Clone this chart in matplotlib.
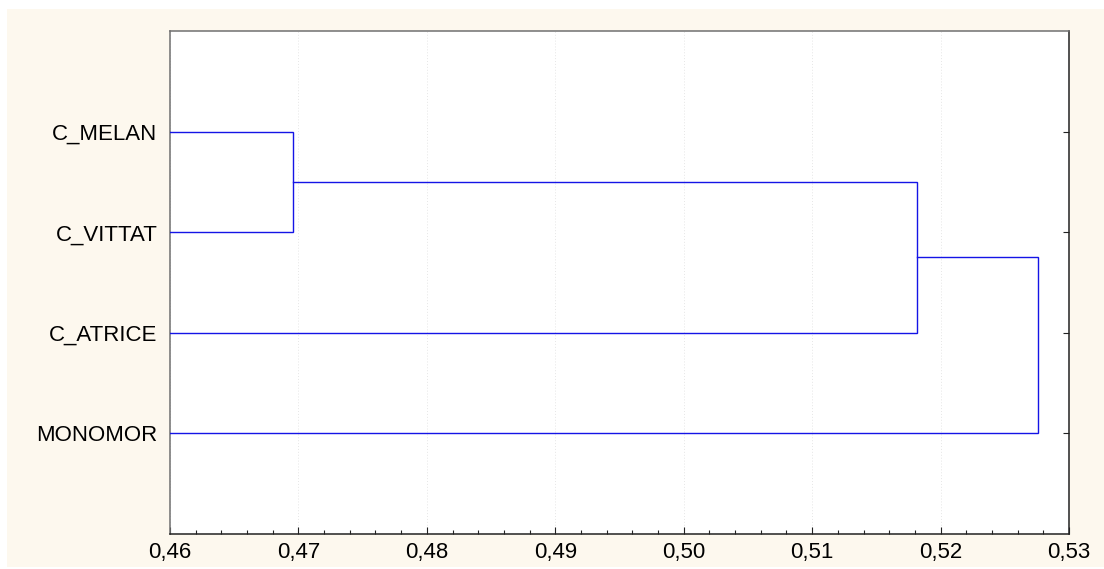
import matplotlib
matplotlib.use("Agg")
import matplotlib.pyplot as plt
from matplotlib.patches import Rectangle
import numpy as np

# ---------- data -------------------------------------------------------------
leaves = ["C_MELAN", "C_VITTAT", "C_ATRICE", "MONOMOR"]      # top to bottom
# merges: (left member, right member, linkage distance); ints index leaves,
# strings "cN" refer to the N-th merge result
merges = [
    (0, 1, 0.4696),
    ("c0", 2, 0.5182),
    ("c1", 3, 0.5276),
]
x_ticks = [0.46, 0.47, 0.48, 0.49, 0.50, 0.51, 0.52, 0.53]

# ---------- figure -----------------------------------------------------------
plt.rcParams["font.family"] = ["Liberation Sans", "DejaVu Sans"]
fig = plt.figure(figsize=(11.04, 5.69), dpi=100, facecolor="white")
# cream page background behind the axes
fig.patches.append(Rectangle((7 / 1104, 0.0035), 1.0, 1 - 9 / 569 - 0.0035,
                             transform=fig.transFigure, facecolor="#fdf8ee",
                             edgecolor="none", zorder=-5))
ax = fig.add_axes([170 / 1104, 35 / 569, 899 / 1104, 503 / 569])
ax.set_facecolor("white")

n = len(leaves)
leaf_y = {i: n - i for i in range(n)}                   # 4, 3, 2, 1
pos = {}                                                # node -> (y, x)
for i in range(n):
    pos[i] = (leaf_y[i], x_ticks[0])

line_col = "#1414e6"
for k, (a, b, h) in enumerate(merges):
    ya, xa = pos[a]
    yb, xb = pos[b]
    ax.plot([xa, h, h, xb], [ya, ya, yb, yb], color=line_col, lw=1.0,
            solid_joinstyle="miter", zorder=3)
    pos["c%d" % k] = ((ya + yb) / 2, h)

ax.set_xlim(x_ticks[0], x_ticks[-1])
ax.set_ylim(0, n + 1)
ax.set_xticks(x_ticks)
ax.set_xticklabels([("%.2f" % t).replace(".", ",") for t in x_ticks], fontsize=16)
ax.set_xticks(np.arange(0.46, 0.5301, 0.002), minor=True)
ax.set_yticks([leaf_y[i] for i in range(n)])
ax.set_yticklabels(leaves, fontsize=16)

ax.tick_params(axis="x", which="major", direction="in", length=5, width=0.8,
               pad=6, color="#222222")
ax.tick_params(axis="x", which="minor", direction="in", length=3, width=0.8,
               color="#222222")
ax.tick_params(axis="y", direction="in", left=False, right=True, length=4,
               width=0.8, pad=9, color="#222222")

ax.grid(True, axis="x", which="major", color="#e6e6e6", linestyle=(0, (1, 2)),
        lw=0.7, zorder=1)

for side in ["left", "top"]:
    ax.spines[side].set_color("#707070")
for side in ["bottom", "right"]:
    ax.spines[side].set_color("#222222")
for sp in ax.spines.values():
    sp.set_linewidth(1.1)

fig.savefig("out.png", dpi=100, facecolor=fig.get_facecolor())
